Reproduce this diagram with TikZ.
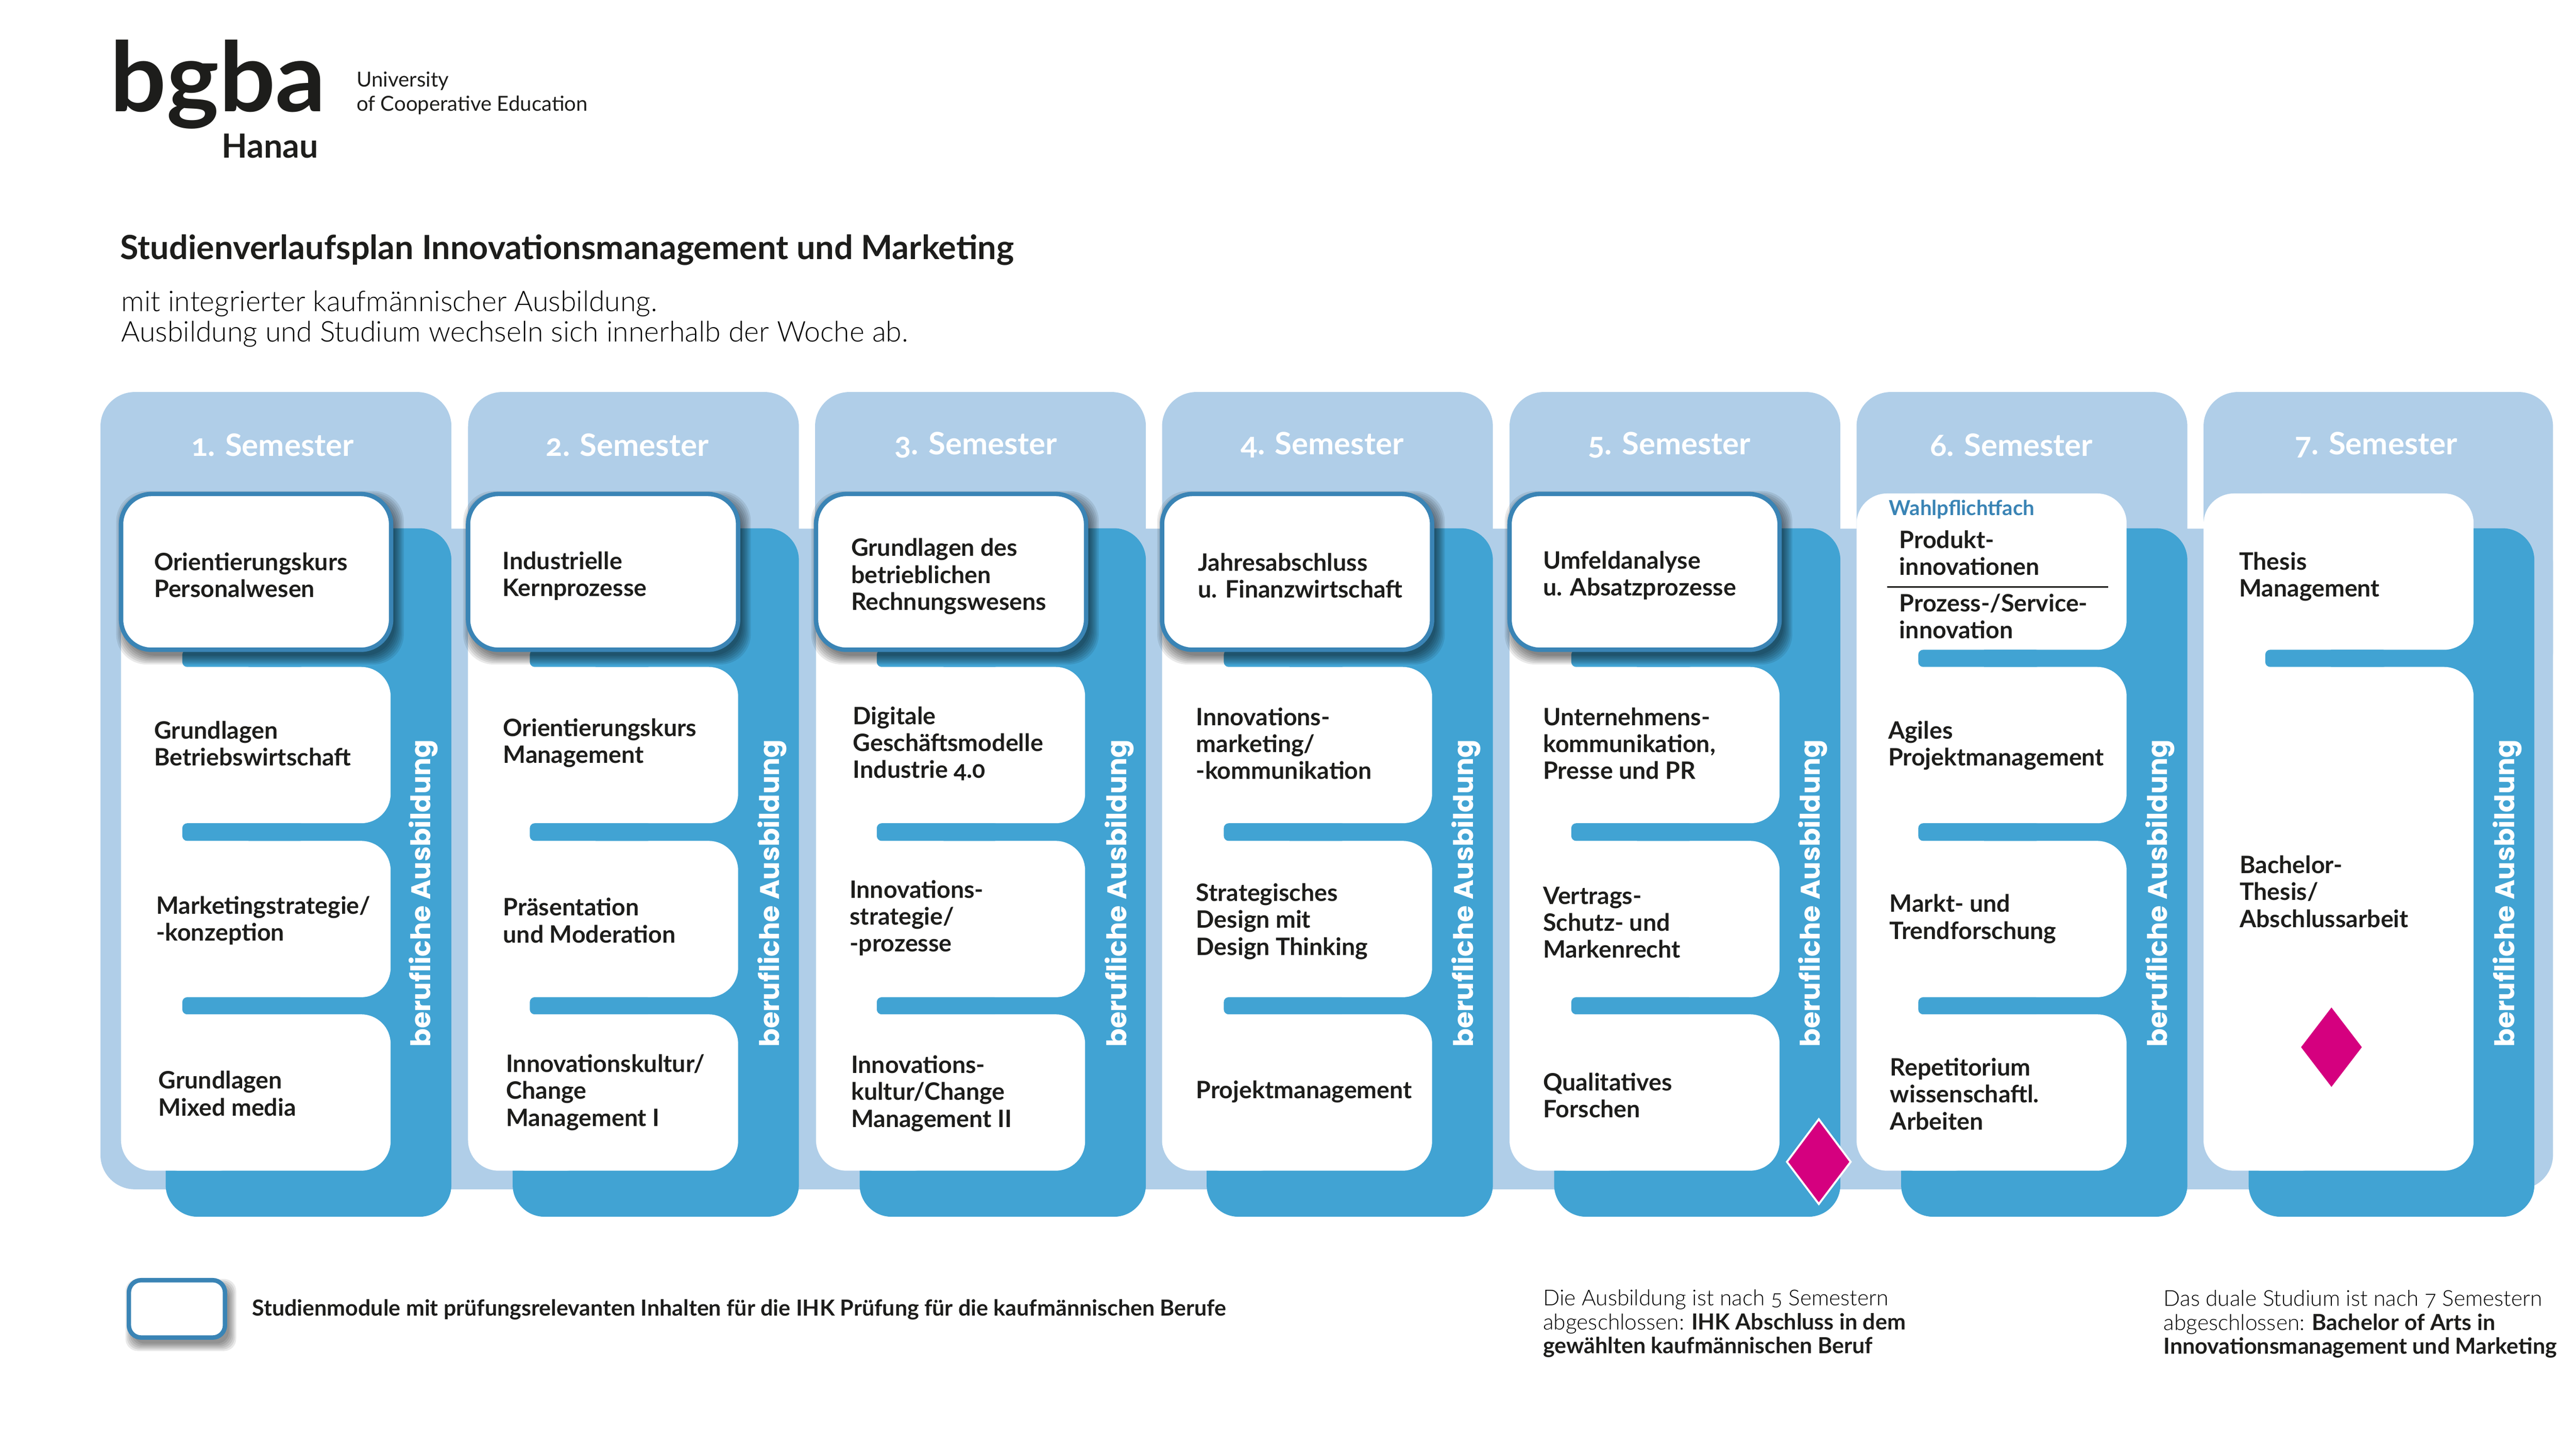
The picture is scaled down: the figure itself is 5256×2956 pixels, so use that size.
\documentclass[tikz,border=0pt]{standalone}
\usepackage{fontspec}
\setmainfont{Lato}[Numbers=OldStyle]
\newfontfamily\lightf{Lato Light}[Numbers=OldStyle]
\newfontfamily\popb{Poppins}[UprightFont=*-Bold]
\definecolor{lightb}{HTML}{B0CEE8}
\definecolor{darkb}{HTML}{41A3D3}
\definecolor{strokeb}{HTML}{3A84B5}
\definecolor{magen}{HTML}{D5007F}
\definecolor{txt}{HTML}{1D1D1B}
\tikzset{
  modt/.style={anchor=west,align=left,inner sep=0pt,yshift=-0.4pt,text=txt,font=\fontsize{13.9}{15.65}\selectfont\bfseries},
  semt/.style={anchor=center,inner sep=0pt,text=white,font=\fontsize{17.9}{20}\selectfont\bfseries},
  vert/.style={anchor=base west,rotate=90,inner sep=0pt,text=white,font=\fontsize{15.65}{20}\selectfont\popb},
  note/.style={anchor=west,align=left,inner sep=0pt,yshift=-0.6pt,text=black,font=\fontsize{12.7}{13.95}\selectfont\lightf},
}
\newcommand\bnote[1]{{\fontsize{12.85}{13.95}\selectfont\normalfont\bfseries\color{txt} #1}}
\newcommand\softshadow[4]{%
  \foreach \s in {0,3,...,18}{
    \fill[black,opacity=0.085,rounded corners=#4]
      ({#1+8-\s},{1008+12-\s+#2}) rectangle ({#3+8+\s},{#2+1326+12+\s});
  }%
}
\newcommand\colbase[6]{% panel left, panel right, dark left, dark right, card left, tab left
  \fill[lightb,rounded corners=0.7cm] (#1,800) rectangle (#2,1400);
  \fill[darkb,rounded corners=0.65cm] (#3,1078) rectangle (#4,2483);
  \fill[white,rounded corners=0.62cm] (#5,1007) rectangle ({#5+260},2389);
}
\newcommand\cardbox[3]{\fill[white,rounded corners=0.6cm] ({#1+60},#2) rectangle ({#1+551},#3);}
\newcommand\tabbox[3]{\fill[darkb,rounded corners=0.1cm] (#1,#2) rectangle ({#1+250},#3);}
\newcommand\stroked[1]{%
  \softshadow{#1}{0}{#1+551}{0.62cm}
  \draw[strokeb,fill=white,line width=0.09cm,rounded corners=0.62cm] (#1,1008) rectangle ({#1+551},1326);
}
\begin{document}
\begin{tikzpicture}[x=0.01cm,y=-0.01cm]
\useasboundingbox (0,0) rectangle (5256,2956);
\fill[white] (0,0) rectangle (5256,2956);
% band
\fill[lightb,rounded corners=0.7cm] (205,1079) rectangle (5209,2427);
% columns
\colbase{205}{921}{338}{921}{247}{372}
\colbase{955}{1630}{1046}{1630}{955}{1081}
\colbase{1663}{2338}{1754}{2338}{1665}{1789}
\colbase{2371}{3046}{2462}{3046}{2371}{2497}
\colbase{3080}{3755}{3171}{3755}{3080}{3206}
\colbase{3788}{4463}{3879}{4463}{3788}{3914}
\colbase{4496}{5209}{4588}{5171}{4496}{4622}
% cards
\foreach \c/\t in {246/372,955/1081,1663/1789,2371/2497,3080/3206,3788/3914}{
  \cardbox{\c}{1007}{1326}
  \cardbox{\c}{1361}{1680}
  \cardbox{\c}{1716}{2035}
  \cardbox{\c}{2070}{2389}
  \tabbox{\t}{1326}{1361}
  \tabbox{\t}{1680}{1716}
  \tabbox{\t}{2035}{2070}
}
\cardbox{4496}{1007}{1326}
\cardbox{4496}{1361}{2389}
\tabbox{4622}{1326}{1361}
\foreach \c in {247,955,1665,2371,3080}{\stroked{\c}}
% semester labels
\node[semt] (s1) at (556,908) {1. Semester};
\node[semt] (s2) at (1280,908) {2. Semester};
\node[semt] (s3) at (1991,908) {3. Semester};
\node[semt] (s4) at (2698,908) {4. Semester};
\node[semt] (s5) at (3406,908) {5. Semester};
\node[semt] (s6) at (4104,908) {6. Semester};
\node[semt] (s7) at (4848,908) {7. Semester};
% vertical labels
\node[vert] (v1) at (878,2137) {berufliche Ausbildung};
\node[vert] (v2) at (1590,2137) {berufliche Ausbildung};
\node[vert] (v3) at (2298,2137) {berufliche Ausbildung};
\node[vert] (v4) at (3006,2137) {berufliche Ausbildung};
\node[vert] (v5) at (3713,2137) {berufliche Ausbildung};
\node[vert] (v6) at (4422,2137) {berufliche Ausbildung};
\node[vert] (v7) at (5130,2137) {berufliche Ausbildung};
% semester 1
\node[modt] (a1) at (314,1172) {Orientierungskurs\\Personalwesen};
\node[modt] (a2) at (314,1516) {Grundlagen\\Betriebswirtschaft};
\node[modt] (a3) at (318,1877) {Marketingstrategie/\\-konzeption};
\node[modt] (a4) at (323,2230) {Grundlagen\\Mixed media};
% semester 2
\node[modt] (b1) at (1025,1174) {Industrielle\\Kernprozesse};
\node[modt] (b2) at (1026,1515) {Orientierungskurs\\Management};
\node[modt] (b3) at (1026,1877) {Präsentation\\und Moderation};
\node[modt] (b4) at (1032,2228) {Innovationskultur/\\Change\\Management I};
% semester 3
\node[modt] (c1) at (1736,1175) {Grundlagen des\\betrieblichen\\Rechnungswesens};
\node[modt] (c2) at (1740,1516) {Digitale\\Geschäftsmodelle\\Industrie 4.0};
\node[modt] (c3) at (1733,1872) {Innovations-\\strategie/\\-prozesse};
\node[modt] (c4) at (1736,2230) {Innovations-\\kultur/Change\\Management II};
% semester 4
\node[modt] (d1) at (2444,1173) {Jahresabschluss\\u. Finanzwirtschaft};
\node[modt] (d2) at (2440,1516) {Innovations-\\marketing/\\-kommunikation};
\node[modt] (d3) at (2440,1879) {Strategisches\\Design mit\\Design Thinking};
\node[modt] (d4) at (2440,2226) {Projektmanagement};
% semester 5
\node[modt] (e1) at (3148,1173) {Umfeldanalyse\\u. Absatzprozesse};
\node[modt] (e2) at (3148,1516) {Unternehmens-\\kommunikation,\\Presse und PR};
\node[modt] (e3) at (3148,1881) {Vertrags-\\Schutz- und\\Markenrecht};
\node[modt] (e4) at (3148,2234) {Qualitatives\\Forschen};
% semester 6
\node[anchor=west,inner sep=0pt,yshift=-0.8pt,text=strokeb,font=\fontsize{12}{14}\selectfont\bfseries] (wf) at (3854,1037) {Wahlpflichtfach};
\node[modt] (f0a) at (3875,1127) {Produkt-\\innovationen};
\node[modt] (f0b) at (3875,1256) {Prozess-/Service-\\innovation};
\coordinate (fl1) at (3851,1198);
\coordinate (fl2) at (4301,1198);
\draw[txt,line width=0.03cm] (fl1) -- (fl2);
\node[modt] (f2) at (3852,1520) {Agiles\\Projektmanagement};
\node[modt] (f3) at (3855,1874) {Markt- und\\Trendforschung};
\node[modt] (f4) at (3856,2231) {Repetitorium\\wissenschaftl.\\Arbeiten};
% semester 7
\node[modt] (g1) at (4568,1175) {Thesis\\Management};
\node[modt] (g2) at (4569,1818) {Bachelor-\\Thesis/\\Abschlussarbeit};
% diamonds
\fill[magen] (4757,2056) -- (4819,2137) -- (4757,2218) -- (4695,2137) -- cycle;
\filldraw[fill=magen,draw=white,line width=0.04cm] (3711,2284) -- (3776,2371) -- (3711,2457) -- (3646,2371) -- cycle;
% logo
\node[anchor=base west,inner sep=0pt,text=txt,font=\fontsize{56}{60}\selectfont\bfseries\addfontfeature{FakeStretch=1.03}] (logo) at (224,228) {bgba};
\node[anchor=base east,inner sep=0pt,text=txt,font=\fontsize{19.3}{22}\selectfont\bfseries] (hanau) at (650,322) {Hanau};
\node[anchor=west,align=left,inner sep=0pt,text=txt,font=\fontsize{12}{13.9}\selectfont] (uni) at (727,190) {University\\of Cooperative Education};
% title
\node[anchor=west,inner sep=0pt,text=txt,font=\fontsize{19.35}{22}\selectfont\bfseries] (title) at (245,510) {Studienverlaufsplan Innovationsmanagement und Marketing};
\node[anchor=west,align=left,inner sep=0pt,text=black,font=\fontsize{16.55}{17.6}\selectfont\lightf] (sub) at (247,651) {mit integrierter kaufmännischer Ausbildung.\\Ausbildung und Studium wechseln sich innerhalb der Woche ab.};
% legend
\foreach \s in {0,3,...,15}{
  \fill[black,opacity=0.085,rounded corners=0.25cm] ({263+8-\s},{2613+12-\s}) rectangle ({459+8+\s},{2730+12+\s});
}
\node[draw=strokeb,fill=white,line width=0.09cm,rounded corners=0.25cm,minimum width=1.96cm,minimum height=1.17cm,inner sep=0pt] (leg) at (361,2671) {};
\node[anchor=west,inner sep=0pt,yshift=-0.8pt,text=txt,font=\fontsize{12.83}{14}\selectfont\bfseries] (legt) at (514,2670) {Studienmodule mit prüfungsrelevanten Inhalten für die IHK Prüfung für die kaufmännischen Berufe};
% notes
\node[note] (n1) at (3148,2699) {Die Ausbildung ist nach 5 Semestern\\abgeschlossen:\hspace{-0.5pt} \bnote{IHK Abschluss in dem}\\\bnote{gewählten kaufmännischen Beruf}};
\node[note] (n2) at (4414,2700) {Das duale Studium ist nach 7 Semestern\\abgeschlossen:\hspace{-0.5pt} \bnote{Bachelor of Arts in}\\\bnote{Innovationsmanagement und Marketing}};
\end{tikzpicture}
\end{document}
